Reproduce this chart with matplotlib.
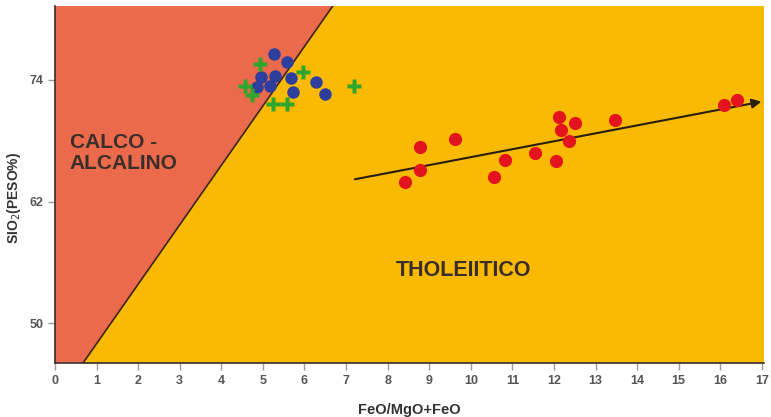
import matplotlib
matplotlib.use("Agg")
import matplotlib.pyplot as plt
import numpy as np

plt.rcParams['font.family'] = ['Liberation Sans', 'DejaVu Sans']

# Data
red_x = [8.41, 8.77, 8.77, 9.62, 10.55, 10.82, 11.54, 12.04, 12.12, 12.18, 12.36, 12.51, 13.47, 16.08, 16.40]
red_y = [63.96, 65.1, 67.4, 68.2, 64.45, 66.1, 66.8, 66.0, 70.3, 69.1, 68.0, 69.8, 70.05, 71.5, 72.0]
blue_x = [5.27, 5.57, 4.95, 5.30, 5.67, 4.85, 5.17, 5.73, 6.27, 6.50]
blue_y = [76.6, 75.75, 74.3, 74.4, 74.2, 73.3, 73.4, 72.85, 73.8, 72.6]
green_x = [4.93, 5.97, 4.57, 4.73, 5.25, 5.59, 7.20]
green_y = [75.6, 74.8, 73.4, 72.5, 71.6, 71.6, 73.4]
trend_start = (7.21, 64.2)
trend_end = (16.99, 71.86)
boundary_x = [0.68, 6.68]
xticks = list(range(0, 18))
yticks = [50, 62, 74]
xlim = (0, 17.05)
ylim = (46.1, 81.3)

fig = plt.figure(figsize=(7.71, 4.17), dpi=100)
ax = fig.add_axes([0.0713, 0.1302, 0.9196, 0.8554])
ax.set_xlim(*xlim)
ax.set_ylim(*ylim)

orange = '#EB6A4B'
yellow = '#FBBA02'

# Regions
ax.fill([xlim[0], boundary_x[0], boundary_x[1], xlim[0]],
        [ylim[0], ylim[0], ylim[1], ylim[1]], color=orange, zorder=0, lw=0)
ax.fill([boundary_x[0], xlim[1], xlim[1], boundary_x[1]],
        [ylim[0], ylim[0], ylim[1], ylim[1]], color=yellow, zorder=0, lw=0)
ax.plot(boundary_x, [ylim[0], ylim[1]], color='#3a2418', lw=1.2, zorder=1)

# Trend arrow
ax.annotate('', xy=trend_end, xytext=trend_start,
            arrowprops=dict(arrowstyle='-|>', color='#2a1e10', lw=1.5,
                            mutation_scale=14, shrinkA=0, shrinkB=0), zorder=2)

# Points
ax.plot(red_x, red_y, 'o', color='#E3141E', ms=9.5, mec='none', zorder=3)
ax.plot(blue_x, blue_y, 'o', color='#2E3E9C', ms=9, mec='none', zorder=3)
ax.plot(green_x, green_y, 'P', color='#2DA62E', ms=10, mec='none', zorder=4)

# Labels in regions
ax.text(0.36, 66.8, 'CALCO -\nALCALINO', fontsize=15, fontweight='bold',
        color='#3a2e2a', ha='left', va='center', linespacing=1.1)
ax.text(9.83, 55.2, 'THOLEIITICO', fontsize=15.5, fontweight='bold',
        color='#3a2e2a', ha='center', va='center')

# Axes styling
ax.set_xticks(xticks)
ax.set_yticks(yticks)
ax.tick_params(axis='both', colors='#9a9a9a', labelcolor='#555555',
               labelsize=9, length=5, width=1, direction='out')
for lab in ax.get_xticklabels() + ax.get_yticklabels():
    lab.set_fontweight('bold')
for s in ['top', 'right']:
    ax.spines[s].set_visible(False)
for s in ['left', 'bottom']:
    ax.spines[s].set_color('#3a2e2a')
    ax.spines[s].set_linewidth(1.2)

ax.set_xlabel('FeO/MgO+FeO', fontsize=10.5, fontweight='bold', color='#333333', labelpad=12)
ax.set_ylabel('SIO$_2$(PESO%)', fontsize=10, fontweight='bold', color='#333333')
ax.yaxis.set_label_coords(-0.045, 0.462)

fig.savefig('out.png', dpi=100)
